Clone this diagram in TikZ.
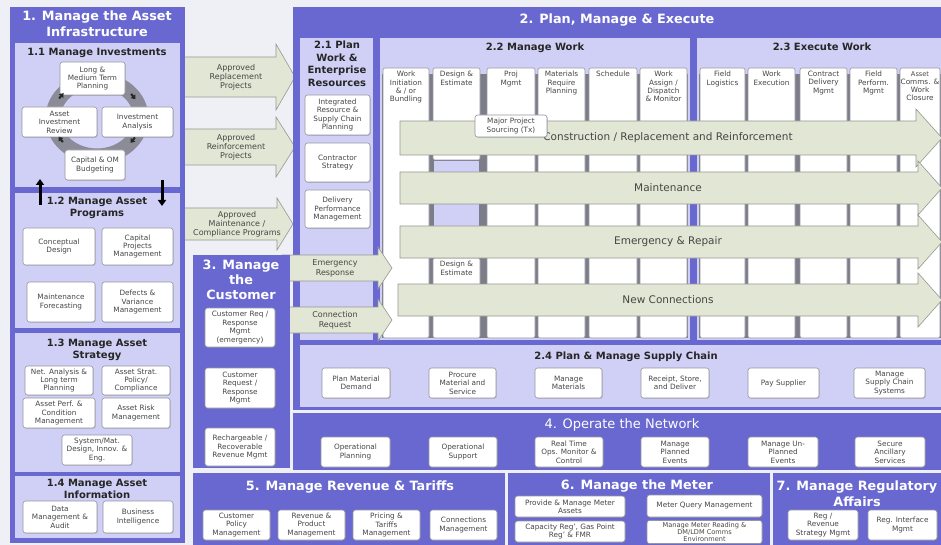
\documentclass[tikz,border=0pt]{standalone}
\usepackage{fontspec}
\setmainfont{DejaVu Sans}
\usetikzlibrary{shadows,arrows.meta}

\definecolor{pagebg}{RGB}{238,240,245}
\definecolor{secblue}{RGB}{104,104,208}
\definecolor{panel}{RGB}{208,208,246}
\definecolor{flowfill}{RGB}{226,230,212}
\definecolor{flowline}{RGB}{150,152,145}
\definecolor{colsep}{RGB}{125,125,138}
\definecolor{boxline}{RGB}{150,150,160}
\definecolor{boxtext}{RGB}{70,70,70}
\definecolor{ringgray}{RGB}{140,140,152}

\tikzset{
  bx/.style={draw=boxline, fill=white, rounded corners=2.5pt, line width=0.6pt,
    text=boxtext, align=center, inner sep=1pt, font=\fontsize{7.3}{8.4}\selectfont,
    drop shadow={shadow xshift=0.8pt, shadow yshift=-0.8pt, opacity=0.3}},
  colbox/.style={draw=boxline, fill=white, rounded corners=2pt, line width=0.6pt, inner sep=0pt},
  coltop/.style={text=boxtext, align=center, font=\fontsize{7.3}{8.3}\selectfont, anchor=north, inner sep=0pt},
  sectitle/.style={text=white, align=center, font=\bfseries\fontsize{12.8}{16}\selectfont, inner sep=0pt},
  subtitle/.style={text=black!85, align=center, font=\bfseries\fontsize{10}{12}\selectfont, inner sep=0pt},
  flowshape/.style={fill=flowfill, draw=flowline, line width=0.6pt, line join=miter},
  flowtext/.style={text=boxtext, align=center, inner sep=0pt, font=\fontsize{8}{9.2}\selectfont},
  rowtext/.style={text=boxtext, align=center, inner sep=0pt, font=\fontsize{10.5}{12}\selectfont},
  ringarrow/.style={line width=2pt, -{Triangle[length=4pt,width=5.5pt]}, black!85},
  bigarrow/.style={line width=3pt, -{Triangle[length=6pt,width=8pt]}, black},
}

% box given by its corners: name, x1, y1, x2, y2, text
\newcommand{\abox}[6]{\node[bx, minimum width={(#4)-(#2)}, minimum height={(#5)-(#3)}]
  (#1) at ({((#2)+(#4))/2},{((#3)+(#5))/2}) {#6};}
% block arrow: x start, head base, tip, y middle, half body, half head
\newcommand{\flowarrow}[6]{\draw[flowshape] (#1,{(#4)-(#5)}) -- (#2,{(#4)-(#5)}) -- (#2,{(#4)-(#6)})
  -- (#3,#4) -- (#2,{(#4)+(#6)}) -- (#2,{(#4)+(#5)}) -- (#1,{(#4)+(#5)}) -- cycle;}
% work column: name, x1, x2, y1, y2, header text
\newcommand{\workcol}[6]{\node[colbox, minimum width={(#3)-(#2)}, minimum height={(#5)-(#4)}]
  (#1) at ({((#2)+(#3))/2},{((#4)+(#5))/2}) {};
  \node[coltop] (#1-t) at ({((#2)+(#3))/2},{(#4)+3}) {#6};}

\begin{document}
\begin{tikzpicture}[x=1pt,y=-1pt]
\useasboundingbox (0,0) rectangle (941,545);
\clip (0,0) rectangle (941,545);
\fill[pagebg] (0,0) rectangle (941,545);

% ---- approved work flowing from 1 into 2 ----
\flowarrow{178}{276}{295}{77}{20}{33}
\node[flowtext] (apr1) at (236,77) {Approved\\Replacement\\Projects};
\flowarrow{178}{276}{295}{147}{18}{30}
\node[flowtext] (apr2) at (236,147) {Approved\\Reinforcement\\Projects};
\flowarrow{178}{277}{293}{224}{16}{26}
\node[flowtext] (apr3) at (237,224) {Approved\\Maintenance /\\Compliance Programs};

% ---- 1. Manage the Asset Infrastructure ----
\fill[secblue] (10,7) rectangle (185,543);
\node[sectitle] (t1) at (97,24) {1. Manage the Asset\\Infrastructure};

\fill[panel] (15,43) rectangle (180,187);
\node[subtitle] (t11) at (97,53) {1.1 Manage Investments};
\draw[ringgray, line width=15pt] (97,118) ellipse [x radius=44pt, y radius=38pt];
\abox{lmtp}{60}{62}{125}{95}{Long \&\\Medium Term\\Planning}
\abox{air}{22}{107}{97}{137}{Asset\\Investment\\Review}
\abox{ia}{102}{107}{173}{137}{Investment\\Analysis}
\abox{cob}{65}{150}{125}{180}{Capital \& OM\\Budgeting}
\coordinate (ra1a) at (59.1,98.5);  \coordinate (ra1b) at (63.6,93.1);
\coordinate (ra2a) at (131.1,93.9); \coordinate (ra2b) at (135.5,99.3);
\coordinate (ra3a) at (134.9,137.5); \coordinate (ra3b) at (130.5,142.9);
\coordinate (ra4a) at (62.9,142.1); \coordinate (ra4b) at (58.5,136.7);
\draw[ringarrow] (ra1a) -- (ra1b);
\draw[ringarrow] (ra2a) -- (ra2b);
\draw[ringarrow] (ra3a) -- (ra3b);
\draw[ringarrow] (ra4a) -- (ra4b);

\fill[panel] (15,193) rectangle (180,328);
\node[subtitle] (t12) at (97,208) {1.2 Manage Asset\\Programs};
\abox{cd}{23}{228}{95}{265}{Conceptual\\Design}
\abox{cpm}{102}{228}{173}{265}{Capital\\Projects\\Management}
\abox{mf}{27}{282}{95}{322}{Maintenance\\Forecasting}
\abox{dvm}{102}{282}{173}{322}{Defects \&\\Variance\\Management}
\coordinate (up1) at (40,205); \coordinate (up2) at (40,179);
\coordinate (dn1) at (162,180); \coordinate (dn2) at (162,206);
\draw[bigarrow] (up1) -- (up2);
\draw[bigarrow] (dn1) -- (dn2);

\fill[panel] (15,333) rectangle (180,472);
\node[subtitle] (t13) at (97,350) {1.3 Manage Asset\\Strategy};
\abox{nalp}{25}{366}{93}{395}{Net. Analysis \&\\Long term\\Planning}
\abox{aspc}{102}{366}{170}{395}{Asset Strat.\\Policy/\\Compliance}
\abox{apcm}{23}{398}{95}{428}{Asset Perf. \&\\Condition\\Management}
\abox{arm}{102}{398}{170}{428}{Asset Risk\\Management}
\abox{smd}{62}{435}{132}{465}{System/Mat.\\Design, Innov. \&\\Eng.}

\fill[panel] (15,476) rectangle (180,538);
\node[subtitle] (t14) at (97,489) {1.4 Manage Asset\\Information};
\abox{dma}{23}{501}{97}{533}{Data\\Management \&\\Audit}
\abox{bi}{103}{501}{173}{533}{Business\\Intelligence}

% ---- 2. Plan, Manage & Execute ----
\fill[secblue] (293,7) rectangle (941,410);
\node[sectitle] (t2) at (617,20) {2. Plan, Manage \& Execute};
\fill[panel] (300,38) rectangle (373,340);
\fill[panel] (380,38) rectangle (690,340);
\fill[panel] (697,38) rectangle (941,340);
\fill[panel] (300,345) rectangle (941,407);
\node[subtitle, font=\bfseries\fontsize{10}{12.5}\selectfont] (t21) at (337,64) {2.1 Plan\\Work \&\\Enterprise\\Resources};
\node[subtitle] (t22) at (535,48) {2.2 Manage Work};
\node[subtitle] (t23) at (822,47) {2.3 Execute Work};

\fill[colsep] (382,74) rectangle (688,338);
\fill[colsep] (699,74) rectangle (941,338);
\workcol{c1}{383}{429}{68}{338}{Work\\Initiation\\\& / or\\Bundling}
\workcol{c2}{433}{480}{68}{160}{Design \&\\Estimate}
\fill[panel] (434,161) rectangle (479,258);
\workcol{c2b}{433}{480}{258}{338}{Design \&\\Estimate}
\workcol{c3}{487}{535}{68}{338}{Proj\\Mgmt}
\workcol{c4}{538}{585}{68}{338}{Materials\\Require\\Planning}
\workcol{c5}{589}{637}{68}{338}{Schedule}
\workcol{c6}{640}{687}{68}{338}{Work\\Assign /\\Dispatch\\\& Monitor}
\workcol{d1}{700}{745}{68}{338}{Field\\Logistics}
\workcol{d2}{748}{795}{68}{338}{Work\\Execution}
\workcol{d3}{800}{847}{68}{338}{Contract\\Delivery\\Mgmt}
\workcol{d4}{850}{897}{68}{338}{Field\\Perform.\\Mgmt}
\workcol{d5}{900}{940}{68}{338}{\fontsize{6.6}{8.3}\selectfont Asset\\Comms. \&\\Work\\Closure}

\flowarrow{400}{916}{942}{138}{17}{29}
\node[rowtext] (r1) at (668,138) {Construction / Replacement and Reinforcement};
\flowarrow{400}{918}{942}{188}{16}{27}
\node[rowtext] (r2) at (668,188) {Maintenance};
\flowarrow{400}{918}{942}{242}{16}{27}
\node[rowtext] (r3) at (668,242) {Emergency \& Repair};
\flowarrow{398}{918}{942}{300}{16}{27}
\node[rowtext] (r4) at (668,300) {New Connections};

\abox{mps}{475}{115}{547}{137}{Major Project\\Sourcing (Tx)}

\abox{irsc}{305}{95}{370}{135}{Integrated\\Resource \&\\Supply Chain\\Planning}
\abox{cs}{305}{143}{370}{182}{Contractor\\Strategy}
\abox{dpm}{305}{190}{370}{228}{Delivery\\Performance\\Management}

\flowarrow{282}{378}{392}{268}{13}{21}
\node[flowtext, font=\fontsize{8}{10}\selectfont] (er) at (335,268) {Emergency\\Response};
\flowarrow{282}{378}{392}{320}{13}{21}
\node[flowtext, font=\fontsize{8}{10}\selectfont] (cr) at (335,320) {Connection\\Request};

\node[subtitle] (t24) at (626,357) {2.4 Plan \& Manage Supply Chain};
\abox{pmd}{322}{368}{390}{398}{Plan Material\\Demand}
\abox{pms}{429}{368}{496}{398}{Procure\\Material and\\Service}
\abox{mm}{535}{368}{602}{398}{Manage\\Materials}
\abox{rsd}{641}{368}{709}{398}{Receipt, Store,\\and Deliver}
\abox{ps}{748}{368}{819}{398}{Pay Supplier}
\abox{mscs}{854}{368}{925}{398}{Manage\\Supply Chain\\Systems}

% ---- 3. Manage the Customer ----
\fill[secblue] (193,255) rectangle (290,468);
\node[sectitle, font=\bfseries\fontsize{12.8}{15}\selectfont] (t3) at (241,280) {3. Manage\\the\\Customer};
\abox{crr}{205}{308}{275}{347}{Customer Req /\\Response\\Mgmt\\(emergency)}
\abox{crm}{205}{368}{275}{408}{Customer\\Request /\\Response\\Mgmt}
\abox{rrr}{205}{428}{275}{466}{Rechargeable /\\Recoverable\\Revenue Mgmt}

% ---- 4. Operate the Network ----
\fill[secblue] (293,413) rectangle (941,470);
\node[sectitle, font=\fontsize{13}{16}\selectfont] (t4) at (622,425) {4. Operate the Network};
\abox{op}{321}{437}{390}{467}{Operational\\Planning}
\abox{os}{429}{437}{497}{467}{Operational\\Support}
\abox{rto}{535}{437}{603}{467}{Real Time\\Ops. Monitor \&\\Control}
\abox{mpe}{641}{437}{709}{467}{Manage\\Planned\\Events}
\abox{mue}{748}{437}{818}{467}{Manage Un-\\Planned\\Events}
\abox{sas}{855}{437}{925}{467}{Secure\\Ancillary\\Services}

% ---- 5. Manage Revenue & Tariffs ----
\fill[secblue] (193,473) rectangle (505,545);
\node[sectitle] (t5) at (350,487) {5. Manage Revenue \& Tariffs};
\abox{cpol}{203}{510}{270}{540}{Customer\\Policy\\Management}
\abox{rpm}{278}{510}{345}{540}{Revenue \&\\Product\\Management}
\abox{ptm}{353}{510}{420}{540}{Pricing \&\\Tariffs\\Management}
\abox{conm}{430}{510}{497}{540}{Connections\\Management}

% ---- 6. Manage the Meter ----
\fill[secblue] (508,473) rectangle (770,545);
\node[sectitle] (t6) at (637,486) {6. Manage the Meter};
\abox{pmma}{515}{496}{625}{517}{Provide \& Manage Meter\\Assets}
\abox{crg}{515}{521}{625}{542}{Capacity Reg', Gas Point\\Reg' \& FMR}
\abox{mqm}{647}{495}{762}{517}{Meter Query Management}
\node[bx, font=\fontsize{6.6}{7.3}\selectfont, inner sep=0.5pt, minimum width=115, minimum height=23]
  (mmr) at (704.5,532) {Manage Meter Reading \&\\DM/LDM Comms\\Environment};

% ---- 7. Manage Regulatory Affairs ----
\fill[secblue] (773,473) rectangle (941,545);
\node[sectitle] (t7) at (857,494) {7. Manage Regulatory\\Affairs};
\abox{rrs}{788}{510}{858}{540}{Reg /\\Revenue\\Strategy Mgmt}
\abox{rim}{868}{510}{937}{540}{Reg. Interface\\Mgmt}
\end{tikzpicture}
\end{document}
